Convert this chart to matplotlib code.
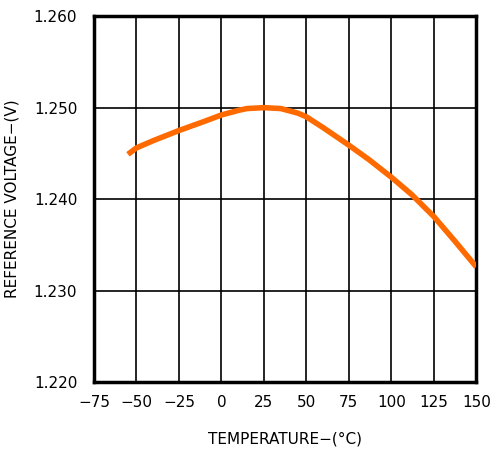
import numpy as np
import matplotlib.pyplot as plt

# temperature (C) vs reference voltage (V)
temp = [-55, -50, -40, -25, -10, 0, 10, 15, 25, 35, 45, 50, 60, 75, 87, 100, 112, 125, 137, 150]
vref = [1.2449, 1.2456, 1.2464, 1.2475, 1.2485, 1.2492, 1.2497, 1.2499, 1.2500, 1.2499,
        1.2494, 1.2490, 1.2478, 1.2459, 1.2443, 1.2424, 1.2405, 1.2381, 1.2355, 1.2326]

xticks = [-75, -50, -25, 0, 25, 50, 75, 100, 125, 150]
yticks = [1.220, 1.230, 1.240, 1.250, 1.260]
ylabels = ['1.220', '1.230', '1.240', '1.250', '1.260']

fig = plt.figure(figsize=(4.92, 4.49), dpi=100)
ax = fig.add_axes([0.191, 0.149, 0.777, 0.815])

ax.plot(temp, vref, color='#ff6a00', lw=4, solid_capstyle='butt', zorder=3)

ax.set_xlim(-75, 150)
ax.set_ylim(1.220, 1.260)
ax.set_xticks(xticks)
ax.set_xticklabels([str(t).replace('-', '\u2212') for t in xticks])
ax.set_yticks(yticks)
ax.set_yticklabels(ylabels)
ax.grid(True, color='black', lw=1.2)
ax.tick_params(length=0, labelsize=11, pad=9)
ax.tick_params(axis='y', pad=12)
for s in ax.spines.values():
    s.set_linewidth(2.5)

ax.set_xlabel('TEMPERATURE\u2212(\u00b0C)', fontsize=11, labelpad=16)
ax.set_ylabel('REFERENCE VOLTAGE\u2212(V)', fontsize=11, labelpad=10)

fig.savefig('out.png', dpi=100)
